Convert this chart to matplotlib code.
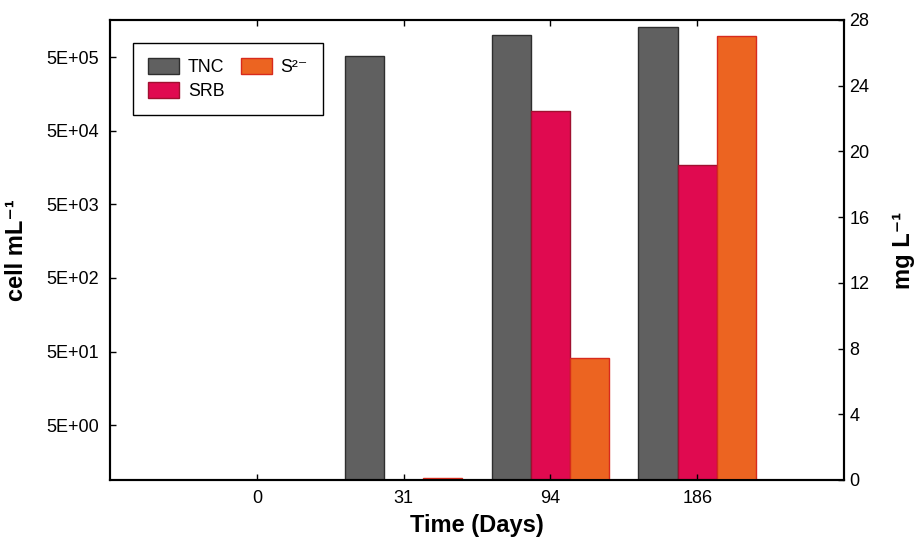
import matplotlib
matplotlib.use("Agg")
import matplotlib.pyplot as plt
import numpy as np
from matplotlib.patches import Patch
from matplotlib.ticker import FixedLocator, FuncFormatter, NullLocator

plt.rcParams["font.family"] = ["Liberation Sans", "DejaVu Sans"]

# values
days = ["0", "31", "94", "186"]
tnc = [np.nan, 5.2e5, 1.0e6, 1.27e6]      # cell mL-1 (left, log)
srb = [np.nan, np.nan, 9.2e4, 1.7e4]      # cell mL-1 (left, log)
sulfide = [0.0, 0.15, 7.4, 27.0]          # mg L-1 (right, linear)
left_ticks = [5, 50, 500, 5000, 50000, 500000]
right_ticks = [0, 4, 8, 12, 16, 20, 24, 28]

c_tnc, e_tnc = "#606060", "#2e2e2e"
c_srb, e_srb = "#e00a50", "#a01030"
c_s2, e_s2 = "#ec6421", "#d82a1c"

fig = plt.figure(figsize=(9.2, 5.47), dpi=100)
ax = fig.add_axes([0.1196, 0.1225, 0.7978, 0.841])
ax2 = ax.twinx()

x = np.arange(len(days))
bw = 0.267
ax.bar(x - bw, tnc, width=bw, color=c_tnc, edgecolor=e_tnc, linewidth=1.0)
ax.bar(x, srb, width=bw, color=c_srb, edgecolor=e_srb, linewidth=1.0)
ax2.bar(x + bw, sulfide, width=bw, color=c_s2, edgecolor=e_s2, linewidth=1.0)

ax.set_yscale("log")
ax.set_ylim(0.9, 1.6e6)
ax.yaxis.set_major_locator(FixedLocator(left_ticks))
ax.yaxis.set_minor_locator(NullLocator())
ax.yaxis.set_major_formatter(FuncFormatter(lambda v, _: f"{v:.0E}"))
ax2.set_ylim(0, 28)
ax2.set_yticks(right_ticks)

ax.set_xlim(-1, 4)
ax.set_xticks(x, days)

for a in (ax, ax2):
    for s in a.spines.values():
        s.set_linewidth(1.5)
ax.tick_params(axis="both", direction="in", length=4, width=1, labelsize=13)
ax.tick_params(axis="x", top=True, pad=7)
ax.tick_params(axis="y", pad=8)
ax2.tick_params(axis="y", direction="in", length=4, width=1, labelsize=13, pad=4)

ax.set_xlabel("Time (Days)", fontsize=17, fontweight="bold", labelpad=5)
ax.set_ylabel("cell mL\u207b\u00b9", fontsize=17, fontweight="bold")
ax.yaxis.set_label_coords(-0.112, 0.5)
ax2.set_ylabel("mg L\u207b\u00b9", fontsize=17, fontweight="bold")
ax2.yaxis.set_label_coords(1.066, 0.5)

handles = [Patch(facecolor=c_tnc, edgecolor=e_tnc, label="TNC"),
           Patch(facecolor=c_srb, edgecolor=e_srb, label="SRB"),
           Patch(facecolor=c_s2, edgecolor=e_s2, label="S\u00b2\u207b")]
leg = ax2.legend(handles=handles, ncol=2, loc="upper left",
                 bbox_to_anchor=(0.031, 0.95), borderaxespad=0,
                 fontsize=12.8, handlelength=1.75, handleheight=1.02,
                 handletextpad=0.5, labelspacing=0.3, columnspacing=0.9,
                 borderpad=0.85, fancybox=False, framealpha=1)
leg.get_frame().set_edgecolor("black")
leg.get_frame().set_linewidth(1.0)

fig.savefig("out.png", dpi=100)
